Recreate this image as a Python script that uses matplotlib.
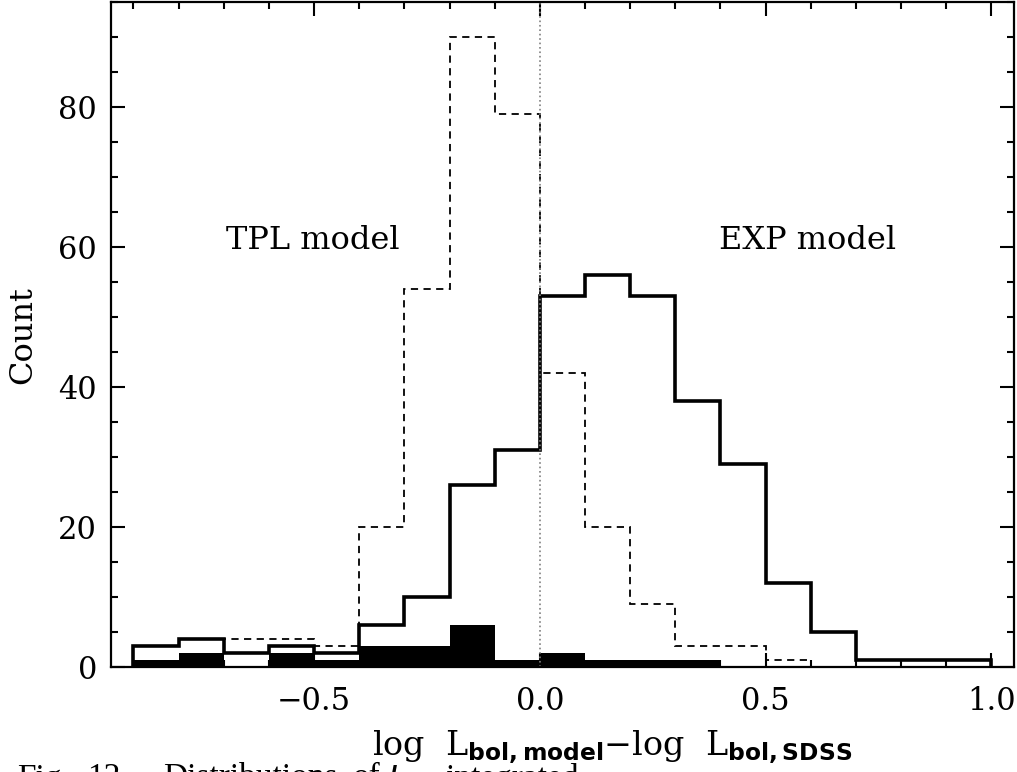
import numpy as np
import matplotlib
matplotlib.use("Agg")
import matplotlib.pyplot as plt
from matplotlib.ticker import MultipleLocator

plt.rcParams['font.family'] = ['DejaVu Serif']
plt.rcParams['mathtext.fontset'] = 'custom'
plt.rcParams['mathtext.rm'] = 'DejaVu Serif'
plt.rcParams['mathtext.bf'] = 'DejaVu Sans:bold'

# Data
bin_edges = [-0.9, -0.8, -0.7, -0.6, -0.5, -0.4, -0.3, -0.2, -0.1, 0.0,
             0.1, 0.2, 0.3, 0.4, 0.5, 0.6, 0.7, 0.8, 0.9, 1.0]
exp_counts = [3, 4, 2, 3, 2, 6, 10, 26, 31, 53, 56, 53, 38, 29, 12, 5, 1, 1, 1]
tpl_counts = [3, 4, 4, 4, 3, 20, 54, 90, 79, 42, 20, 9, 3, 3, 1, 0, 0, 0, 0]
sub_counts = [1, 2, 0, 2, 1, 3, 3, 6, 1, 2, 1, 1, 1, 0, 0, 0, 0, 0, 0]
xticks = [-0.5, 0.0, 0.5, 1.0]
yticks = [0, 20, 40, 60, 80]

fig = plt.figure(figsize=(10.17, 7.72), dpi=100)
ax = fig.add_axes([0.109, 0.136, 0.888, 0.861])

ax.stairs(sub_counts, bin_edges, fill=True, color='black', baseline=0)
ax.stairs(tpl_counts, bin_edges, color='black', linestyle=(0, (4, 3)), linewidth=1.3)
ax.stairs(exp_counts, bin_edges, color='black', linewidth=2.6)
ax.axvline(0.0, color='gray', linestyle=':', linewidth=1.2)

ax.set_xlim(-0.95, 1.05)
ax.set_ylim(0, 95)
ax.set_xticks(xticks)
ax.set_yticks(yticks)
ax.xaxis.set_minor_locator(MultipleLocator(0.1))
ax.yaxis.set_minor_locator(MultipleLocator(5))
ax.tick_params(which='both', direction='in', top=True, right=True, width=1.5,
               labelsize=22)
ax.tick_params(axis='x', pad=14)
ax.tick_params(axis='y', pad=10)
ax.tick_params(which='major', length=10)
ax.tick_params(which='minor', length=5)
for s in ax.spines.values():
    s.set_linewidth(1.6)

ax.set_ylabel('Count', fontsize=23, labelpad=14)
ax.set_xlabel(r'log  L$_{\mathbf{bol,model}}$$-$log  L$_{\mathbf{bol,SDSS}}$',
              fontsize=24, labelpad=8)
ax.xaxis.label.set_x(0.555)

ax.text(-0.503, 61, 'TPL model', fontsize=23, ha='center', va='center')
ax.text(0.594, 61, 'EXP model', fontsize=23, ha='center', va='center')

cap_y = 1 - 763 / 772
cap_kw = dict(fontsize=24, va='top', ha='left', family='Liberation Serif')
fig.text(17 / 1017, cap_y, 'Fig.', **cap_kw)
fig.text(87 / 1017, cap_y, '12.—', **cap_kw)
fig.text(163 / 1017, cap_y, 'Distributions', **cap_kw)
fig.text(353 / 1017, cap_y, 'of', **cap_kw)
fig.text(387 / 1017, cap_y, r'$L_{\rm bol}$', **cap_kw)
fig.text(445 / 1017, cap_y, 'integrated', **cap_kw)

fig.savefig('out.png', dpi=100)
